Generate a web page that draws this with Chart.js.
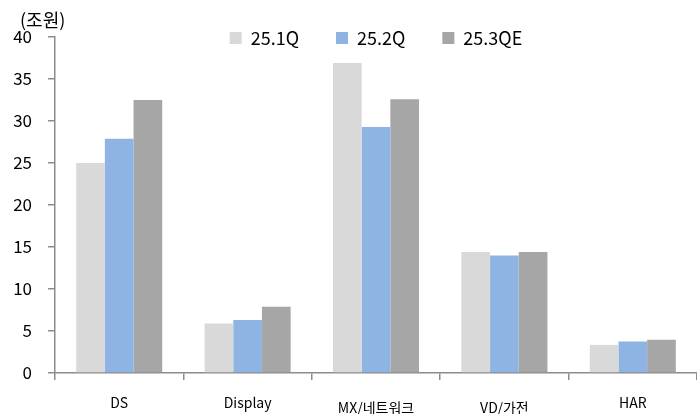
<!DOCTYPE html>
<html>
<head>
<meta charset="utf-8">
<script src="https://cdn.jsdelivr.net/npm/chart.js@4"></script>
<style>
  html, body { margin: 0; padding: 0; background: #fff; }
  #wrap { width: 697px; height: 414px; }
</style>
</head>
<body>
<div id="wrap"><canvas id="segChart"></canvas></div>
<script>
const categories = ["DS", "Display", "MX/네트워크", "VD/가전", "HAR"];
const q1Values = [25.0, 5.9, 36.9, 14.4, 3.35];
const q2Values = [27.9, 6.3, 29.3, 14.0, 3.75];
const q3eValues = [32.5, 7.9, 32.6, 14.4, 3.95];
const seriesLabels = ["25.1Q", "25.2Q", "25.3QE"];
const yTicks = [0, 5, 10, 15, 20, 25, 30, 35, 40];
const unitLabel = "(조원)";

const FONT = "'Noto Sans CJK KR', 'Noto Sans', sans-serif";
const AXIS = "#8c8c8c";
const LEGEND_PAD = 37;
const LEGEND_FONT = 18;

// legend sits inside the plot, level with the top tick
const legendLift = {
  id: "legendLift",
  beforeDraw(chart) {
    const lg = chart.legend;
    if (!lg) return;
    const h = lg.bottom - lg.top;
    lg.top = 29 - LEGEND_PAD;
    lg.bottom = lg.top + h;
  },
  afterDraw(chart) {
    const ctx = chart.ctx;
    ctx.save();
    ctx.font = "18px " + FONT;
    ctx.fillStyle = "#000";
    ctx.textBaseline = "middle";
    ctx.fillText(unitLabel, 20, 20);
    ctx.restore();
  },
};

new Chart(document.getElementById("segChart"), {
  type: "bar",
  data: {
    labels: categories,
    datasets: [
      { label: seriesLabels[0], data: q1Values, backgroundColor: "#d9d9d9" },
      { label: seriesLabels[1], data: q2Values, backgroundColor: "#8eb4e3" },
      { label: seriesLabels[2], data: q3eValues, backgroundColor: "#a6a6a6" },
    ],
  },
  options: {
    responsive: true,
    maintainAspectRatio: false,
    animation: false,
    // legend box (item + pad + 10) takes room above the plot; pull plot top back to y=37
    layout: { autoPadding: false, padding: { top: 37 - (LEGEND_FONT + LEGEND_PAD + 10), right: 0, bottom: 0, left: 0 } },
    datasets: { bar: { categoryPercentage: 0.67, barPercentage: 1 } },
    plugins: {
      legend: {
        position: "top",
        align: "center",
        fullSize: false,
        labels: {
          boxWidth: 12,
          boxHeight: 12,
          padding: LEGEND_PAD,
          color: "#000",
          font: { family: FONT, size: LEGEND_FONT },
        },
      },
      tooltip: { enabled: false },
    },
    scales: {
      x: {
        offset: true,
        grid: { display: true, drawOnChartArea: false, offset: true, tickLength: 7, color: AXIS, lineWidth: 1.5 },
        border: { color: AXIS, width: 1.5 },
        ticks: {
          color: "#000",
          padding: 14,
          maxRotation: 0,
          font: (ctx) => ({ family: FONT, size: 14, lineHeight: (ctx.index === 2 || ctx.index === 3) ? "28px" : "18px" }),
        },
        afterFit(scale) { scale.height = 41; },
      },
      y: {
        min: 0,
        max: 40,
        afterBuildTicks(scale) { scale.ticks = yTicks.map((v) => ({ value: v })); },
        grid: { display: true, drawOnChartArea: false, tickLength: 7, color: AXIS, lineWidth: 1.5 },
        border: { color: AXIS, width: 1.5 },
        ticks: { color: "#000", padding: 16, font: { family: FONT, size: 17 } },
        afterFit(scale) { scale.width = 55; },
      },
    },
  },
  plugins: [legendLift],
});
</script>
</body>
</html>
